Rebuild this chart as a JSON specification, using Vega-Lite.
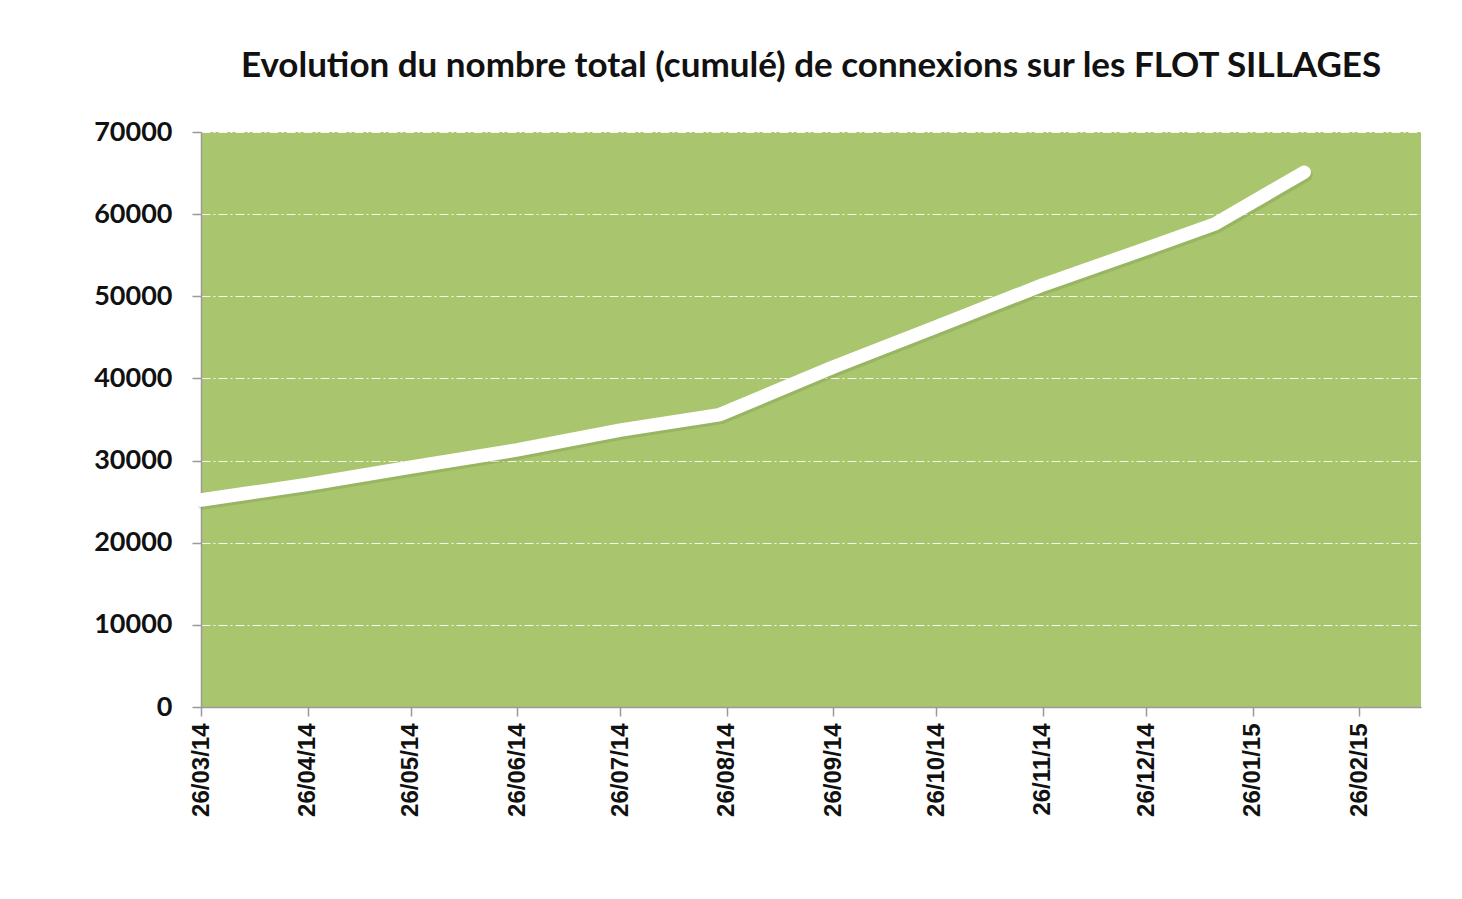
{
  "$schema": "https://vega.github.io/schema/vega-lite/v6.json",
  "width": 1220,
  "height": 575,
  "autosize": {"type": "none"},
  "padding": {"left": 201, "top": 132, "right": 41, "bottom": 192},
  "background": "white",
  "title": {
    "text": "Evolution du nombre total (cumulé) de connexions sur les FLOT SILLAGES",
    "font": "Lato",
    "fontSize": 35,
    "fontWeight": "bold",
    "color": "#111111",
    "anchor": "middle",
    "offset": 34
  },
  "config": {
    "view": {"fill": "#A9C66E", "stroke": null},
    "axis": {"labelColor": "#111111", "domainColor": "#9A9A9A", "tickColor": "#9A9A9A", "domainWidth": 1.5, "tickWidth": 1.5}
  },
  "data": {
    "values": [
      {"date": "2014-03-26", "connexions": 25200},
      {"date": "2014-04-26", "connexions": 27100},
      {"date": "2014-05-26", "connexions": 29200},
      {"date": "2014-06-26", "connexions": 31300},
      {"date": "2014-07-26", "connexions": 33700},
      {"date": "2014-08-24", "connexions": 35600},
      {"date": "2014-09-26", "connexions": 41400},
      {"date": "2014-10-26", "connexions": 46300},
      {"date": "2014-11-26", "connexions": 51400},
      {"date": "2014-12-26", "connexions": 55800},
      {"date": "2015-01-15", "connexions": 58800},
      {"date": "2015-02-10", "connexions": 65100}
    ]
  },
  "encoding": {
    "x": {
      "field": "date",
      "type": "temporal",
      "scale": {"type": "utc", "domain": [{"year": 2014, "month": 3, "date": 26, "utc": true}, {"year": 2015, "month": 3, "date": 16, "utc": true}]},
      "axis": {
        "title": null,
        "grid": false,
        "labelExpr": "utcFormat(datum.value, '%d/%m/%y')",
        "values": [
          {"year": 2014, "month": 3, "date": 26, "utc": true},
          {"year": 2014, "month": 4, "date": 26, "utc": true},
          {"year": 2014, "month": 5, "date": 26, "utc": true},
          {"year": 2014, "month": 6, "date": 26, "utc": true},
          {"year": 2014, "month": 7, "date": 26, "utc": true},
          {"year": 2014, "month": 8, "date": 26, "utc": true},
          {"year": 2014, "month": 9, "date": 26, "utc": true},
          {"year": 2014, "month": 10, "date": 26, "utc": true},
          {"year": 2014, "month": 11, "date": 26, "utc": true},
          {"year": 2014, "month": 12, "date": 26, "utc": true},
          {"year": 2015, "month": 1, "date": 26, "utc": true},
          {"year": 2015, "month": 2, "date": 26, "utc": true}
        ],
        "labelAngle": 270,
        "labelAlign": "right",
        "labelBaseline": "middle",
        "labelFont": "Liberation Sans",
        "labelFontSize": 24,
        "labelFontWeight": "bold",
        "labelPadding": 7,
        "tickSize": 9,
        "labelOverlap": false,
        "labelFlush": false
      }
    },
    "y": {
      "field": "connexions",
      "type": "quantitative",
      "scale": {"domain": [0, 70000], "nice": false},
      "axis": {
        "title": null,
        "values": [0, 10000, 20000, 30000, 40000, 50000, 60000, 70000],
        "format": "d",
        "labelFont": "Lato",
        "labelFontWeight": "bold",
        "labelFontSize": 27,
        "labelPadding": 20,
        "tickSize": 9,
        "grid": true,
        "gridColor": "#F4F8EC",
        "gridDash": [9, 3, 2, 3],
        "gridWidth": 1.2
      }
    }
  },
  "layer": [
    {
      "mark": {"type": "line", "stroke": "#4F6B2A", "strokeWidth": 13, "strokeOpacity": 0.18, "strokeCap": "round", "strokeJoin": "round", "xOffset": 2, "yOffset": 3}
    },
    {
      "mark": {"type": "line", "stroke": "#FFFFFF", "strokeWidth": 13.5, "strokeCap": "round", "strokeJoin": "round"}
    }
  ]
}
